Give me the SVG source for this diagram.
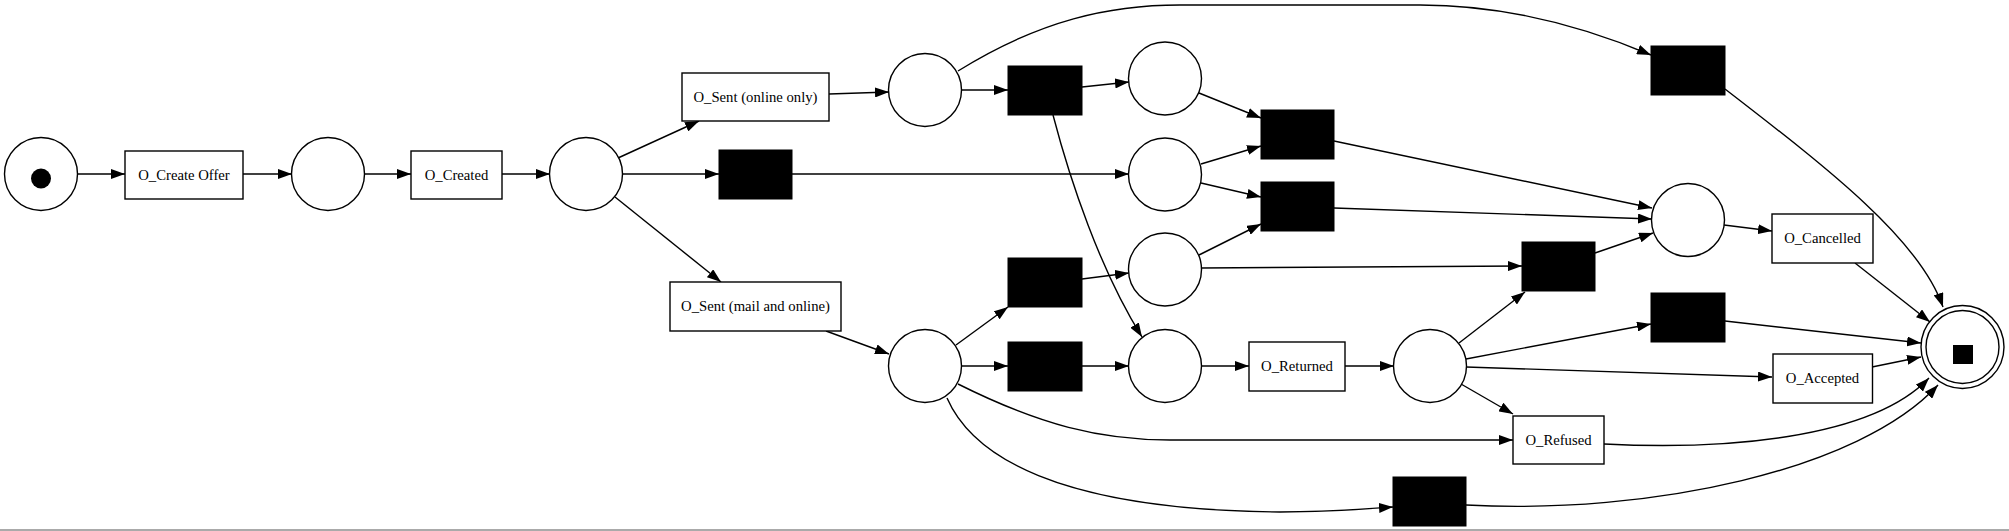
<svg xmlns="http://www.w3.org/2000/svg" width="2009" height="531" viewBox="0 0 2009 531">
<style>
.place{fill:#fff;stroke:#000;stroke-width:1.4}
.lab{fill:#fff;stroke:#000;stroke-width:1.4}
.tau{fill:#000;stroke:#000;stroke-width:1}
.e{fill:none;stroke:#000;stroke-width:1.4;marker-end:url(#ah)}
text{font-family:"Liberation Serif","Times New Roman",serif;font-size:14.7px;text-anchor:middle;fill:#000}
</style>
<defs>
<marker id="ah" markerUnits="userSpaceOnUse" markerWidth="14" markerHeight="10" refX="14" refY="5" orient="auto">
<path d="M0,0 L14,5 L0,10 z" fill="#000"/>
</marker>
</defs>
<rect x="0" y="0" width="2009" height="531" fill="#fff"/>
<g id="edges">
<path class="e" d="M77,174 L125,174"/>
<path class="e" d="M243,174 L292,174"/>
<path class="e" d="M364,174 L411,174"/>
<path class="e" d="M502,174 L550,174"/>
<path class="e" d="M618,158 L699,121"/>
<path class="e" d="M622,174 L719,174"/>
<path class="e" d="M792,174 L1129,174"/>
<path class="e" d="M615,197 L721,282"/>
<path class="e" d="M829,94 L889,92"/>
<path class="e" d="M961,90 L1008,90"/>
<path class="e" d="M1082,87 L1129,82"/>
<path class="e" d="M958,71 C1040,20 1110,5 1180,5 L1420,5 C1500,5 1580,25 1651,55"/>
<path class="e" d="M1053,115 C1070,180 1100,270 1142,337"/>
<path class="e" d="M1199,93 L1261,118"/>
<path class="e" d="M1201,164 L1261,146"/>
<path class="e" d="M1201,183 L1261,197"/>
<path class="e" d="M1199,255 L1261,224"/>
<path class="e" d="M1201,268 L1522,266"/>
<path class="e" d="M1334,141 L1652,208"/>
<path class="e" d="M1334,208 L1652,219"/>
<path class="e" d="M1595,253 L1653,233"/>
<path class="e" d="M1724,225 L1772,231"/>
<path class="e" d="M1855,263 L1930,322"/>
<path class="e" d="M1725,89 C1830,170 1920,240 1943,307"/>
<path class="e" d="M826,331 L889,354"/>
<path class="e" d="M956,345 L1008,307"/>
<path class="e" d="M961,366 L1008,366"/>
<path class="e" d="M1082,279 L1129,273"/>
<path class="e" d="M1082,366 L1129,366"/>
<path class="e" d="M1201,366 L1249,366"/>
<path class="e" d="M1345,366 L1394,366"/>
<path class="e" d="M1459,343 L1525,292"/>
<path class="e" d="M1466,359 L1651,324"/>
<path class="e" d="M1466,367 L1772,377"/>
<path class="e" d="M1461,384 L1513,414"/>
<path class="e" d="M958,384 C1040,425 1100,440 1170,440 L1513,440"/>
<path class="e" d="M947,398 C972,455 1055,510 1280,512 C1330,512 1365,509 1393,507"/>
<path class="e" d="M1725,321 L1921,343"/>
<path class="e" d="M1872,367 L1921,357"/>
<path class="e" d="M1604,444 C1720,450 1870,440 1929,378"/>
<path class="e" d="M1466,505 C1650,515 1860,470 1938,385"/>
</g>
<g id="p_start"><ellipse class="place" cx="41" cy="174" rx="36.5" ry="36.5"/><circle cx="41" cy="178.5" r="10" fill="#000"/></g>
<g id="t_create"><rect class="lab" x="125" y="151" width="118" height="48"/><text x="184" y="180">O_Create Offer</text></g>
<g id="p1"><ellipse class="place" cx="328" cy="174" rx="36.5" ry="36.5"/></g>
<g id="t_created"><rect class="lab" x="411" y="151" width="91" height="48"/><text x="456.5" y="180">O_Created</text></g>
<g id="p2"><ellipse class="place" cx="586" cy="174" rx="36.5" ry="36.5"/></g>
<g id="t_sent_online"><rect class="lab" x="682" y="73" width="147" height="48"/><text x="755.5" y="102">O_Sent (online only)</text></g>
<g id="t_sent_mail"><rect class="lab" x="670" y="282" width="171" height="49"/><text x="755.5" y="311">O_Sent (mail and online)</text></g>
<g id="p3"><ellipse class="place" cx="925" cy="90" rx="36.5" ry="36.5"/></g>
<g id="p7"><ellipse class="place" cx="925" cy="366" rx="36.5" ry="36.5"/></g>
<g id="tau1"><rect class="tau" x="1008" y="66" width="74" height="49"/></g>
<g id="tau2"><rect class="tau" x="719" y="150" width="73" height="49"/></g>
<g id="tau7"><rect class="tau" x="1008" y="258" width="74" height="49"/></g>
<g id="tau8"><rect class="tau" x="1008" y="342" width="74" height="49"/></g>
<g id="p4"><ellipse class="place" cx="1165" cy="78.5" rx="36.5" ry="36.5"/></g>
<g id="p5"><ellipse class="place" cx="1165" cy="174.5" rx="36.5" ry="36.5"/></g>
<g id="p6"><ellipse class="place" cx="1165" cy="269.5" rx="36.5" ry="36.5"/></g>
<g id="p8"><ellipse class="place" cx="1165" cy="366" rx="36.5" ry="36.5"/></g>
<g id="tau3"><rect class="tau" x="1261" y="110" width="73" height="49"/></g>
<g id="tau4"><rect class="tau" x="1261" y="182" width="73" height="49"/></g>
<g id="t_returned"><rect class="lab" x="1249" y="342" width="96" height="49"/><text x="1297" y="371">O_Returned</text></g>
<g id="p10"><ellipse class="place" cx="1430" cy="366" rx="36.5" ry="36.5"/></g>
<g id="tau6"><rect class="tau" x="1522" y="242" width="73" height="49"/></g>
<g id="t_refused"><rect class="lab" x="1513" y="416" width="91" height="48"/><text x="1558.5" y="445">O_Refused</text></g>
<g id="tau9"><rect class="tau" x="1393" y="477" width="73" height="49"/></g>
<g id="tau5"><rect class="tau" x="1651" y="46" width="74" height="49"/></g>
<g id="p9"><ellipse class="place" cx="1688" cy="220" rx="36.5" ry="36.5"/></g>
<g id="tau10"><rect class="tau" x="1651" y="293" width="74" height="49"/></g>
<g id="t_cancelled"><rect class="lab" x="1772" y="214" width="101" height="49"/><text x="1822.5" y="243">O_Cancelled</text></g>
<g id="t_accepted"><rect class="lab" x="1773" y="354" width="99.5" height="49"/><text x="1822.5" y="383">O_Accepted</text></g>
<g id="p_final"><ellipse class="place" cx="1962.5" cy="347" rx="41.5" ry="41.5"/><ellipse class="place" cx="1962.5" cy="347" rx="36.5" ry="36.5"/><rect x="1953" y="345" width="20" height="19" fill="#000"/></g>
<rect x="0" y="529" width="2009" height="2" fill="#aaa"/>
</svg>
